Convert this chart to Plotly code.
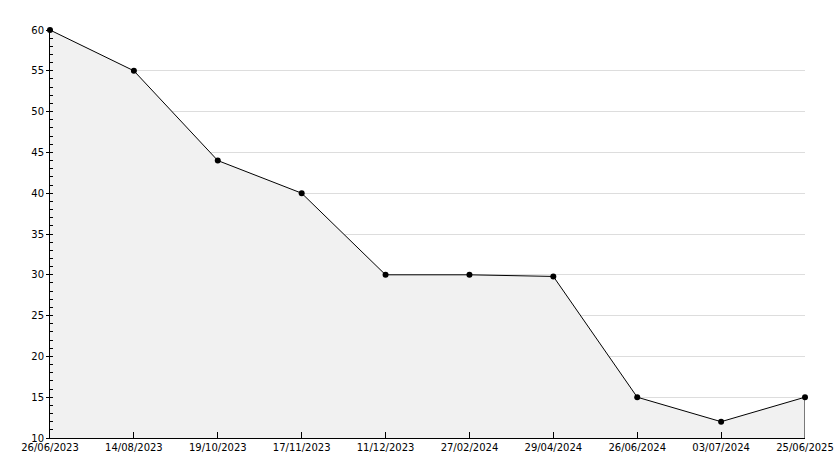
import plotly.graph_objects as go

dates = ["26/06/2023", "14/08/2023", "19/10/2023", "17/11/2023", "11/12/2023",
         "27/02/2024", "29/04/2024", "26/06/2024", "03/07/2024", "25/06/2025"]
values = [60, 55, 44, 40, 30, 30, 29.8, 15, 12, 15]
y_min, y_max = 10, 60

fig = go.Figure()
fig.add_trace(go.Scatter(
    x=dates, y=values, mode="lines+markers", fill="tozeroy",
    fillcolor="#f1f1f1", line=dict(color="black", width=1),
    marker=dict(color="black", size=6, symbol="circle"), hoverinfo="x+y",
    showlegend=False, cliponaxis=False))
# closing edge of the filled area at the last category
fig.add_trace(go.Scatter(
    x=[dates[-1], dates[-1]], y=[values[-1], y_min], mode="lines",
    line=dict(color="black", width=1), hoverinfo="skip", showlegend=False,
    cliponaxis=False))

fig.update_layout(
    width=834, height=468,
    margin=dict(l=50, r=29, t=30, b=30),
    paper_bgcolor="white", plot_bgcolor="white",
    font=dict(family="DejaVu Sans", size=10, color="black"),
)
fig.update_xaxes(
    type="category", range=[0, len(dates) - 1], showgrid=False, automargin=False,
    showline=True, linecolor="black", linewidth=1,
    ticks="inside", ticklen=6, tickcolor="black", zeroline=False,
)
fig.update_yaxes(
    range=[y_min, y_max], dtick=5, showgrid=True, gridcolor="#dddddd", automargin=False,
    showline=True, linecolor="black", linewidth=1,
    ticks="outside", ticklen=3, tickcolor="black", zeroline=False,
    minor=dict(dtick=1, ticks="inside", ticklen=3, tickcolor="black", showgrid=False),
)
fig.write_html("out.html", config={"displayModeBar": False},
               post_script="document.body.style.margin='0';document.body.style.overflow='hidden';")
